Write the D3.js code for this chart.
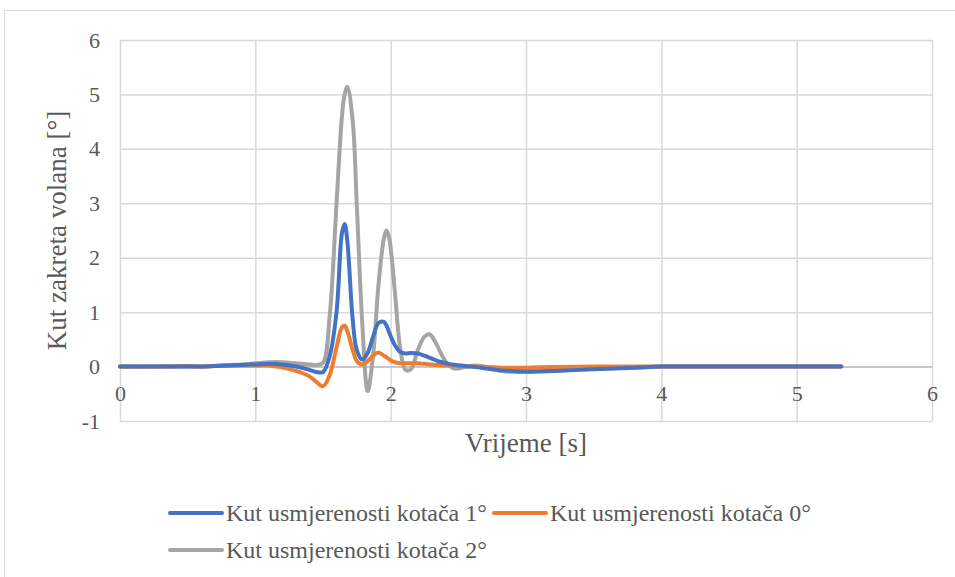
<!DOCTYPE html>
<html>
<head>
<meta charset="utf-8">
<script src="https://cdn.jsdelivr.net/npm/d3@7"></script>
<style>
    html, body { margin: 0; padding: 0; background: #fff; }
    .tick text { fill: #595959; font-size: 22px; }
    .axis-title { fill: #595959; font-size: 27px; }
    .legend-label { fill: #595959; font-size: 24px; }
</style>
</head>
<body>
<div id="chart"></div>
<script>
/* data */
var time = [0, 0.3, 0.5, 0.6, 0.7, 0.8, 0.9, 1.0, 1.1, 1.2, 1.3, 1.4, 1.45, 1.5, 1.55, 1.6, 1.64, 1.66, 1.68, 1.72, 1.75,
    1.79, 1.83, 1.87, 1.91, 1.95, 1.97, 1.99, 2.03, 2.07, 2.11, 2.15, 2.2, 2.25, 2.29, 2.33, 2.38, 2.43, 2.48, 2.55,
    2.63, 2.72, 2.82, 3.0, 3.2, 3.5, 3.8, 4.0, 4.5, 5.0, 5.33];

var kut1 = [0, 0, 0, 0, 0.01, 0.02, 0.03, 0.04, 0.05, 0.04, 0.0, -0.06, -0.1, -0.1, 0.2, 1.0, 2.45, 2.62, 2.3, 0.85, 0.3,
    0.13, 0.25, 0.55, 0.8, 0.82, 0.75, 0.62, 0.4, 0.27, 0.24, 0.25, 0.24, 0.2, 0.16, 0.12, 0.08, 0.05, 0.03, 0.01,
    -0.01, -0.04, -0.07, -0.09, -0.08, -0.05, -0.02, 0, 0, 0, 0];

var kut0 = [0, 0, 0.01, 0, 0.01, 0.02, 0.02, 0.02, 0.02, -0.02, -0.08, -0.18, -0.28, -0.36, -0.15, 0.35, 0.72, 0.75, 0.65, 0.3, 0.1,
    0.04, 0.1, 0.2, 0.26, 0.2, 0.17, 0.13, 0.08, 0.06, 0.06, 0.06, 0.06, 0.05, 0.04, 0.03, 0.02, 0.02, 0.02, 0.01,
    0, -0.01, -0.02, -0.02, -0.01, 0, 0, 0, 0, 0, 0];

var kut2 = [0, 0, 0, 0, 0.01, 0.03, 0.04, 0.06, 0.08, 0.08, 0.06, 0.04, 0.03, 0.07, 0.95, 3.0, 4.6, 5.0, 5.14, 4.5, 2.95,
    0.8, -0.45, 0.2, 1.5, 2.35, 2.5, 2.35, 1.4, 0.35, -0.06, -0.05, 0.3, 0.55, 0.59, 0.45, 0.2, 0.02, -0.04, -0.01,
    0.02, -0.02, -0.08, -0.1, -0.08, -0.04, -0.02, 0, 0, 0, 0];

var xTicks = [0, 1, 2, 3, 4, 5, 6];
var yTicks = [-1, 0, 1, 2, 3, 4, 5, 6];

var seriesNames = ["Kut usmjerenosti kotača 1°", "Kut usmjerenosti kotača 0°", "Kut usmjerenosti kotača 2°"];
var seriesValues = [kut1, kut0, kut2];
var seriesColors = ["#4472C4", "#ED7D31", "#A5A5A5"];

var FONT = "'Liberation Serif', 'Times New Roman', serif";

/* layout */
var W = 955, H = 577;
var PLOT = { left: 120, right: 932, top: 40, bottom: 421 };

var svg = d3.select("#chart").append("svg")
    .attr("width", W)
    .attr("height", H)
    .style("display", "block")
    .attr("font-family", FONT);

// chart border
svg.append("rect")
    .attr("x", 4.5).attr("y", 10.5)
    .attr("width", 980).attr("height", 600)
    .attr("fill", "#fff")
    .attr("stroke", "#d9d9d9");

var x = d3.scaleLinear().domain([0, 6]).range([PLOT.left, PLOT.right]);
var y = d3.scaleLinear().domain([-1, 6]).range([PLOT.bottom, PLOT.top]);

/* grid */
var gridY = svg.append("g")
    .attr("transform", "translate(" + PLOT.left + ",0)")
    .call(d3.axisLeft(y).tickValues(yTicks).tickSize(-(PLOT.right - PLOT.left)).tickFormat(""));
gridY.select(".domain").remove();
gridY.selectAll("line").attr("stroke", "#d9d9d9").attr("stroke-width", 1.5);

var gridX = svg.append("g")
    .attr("transform", "translate(0," + PLOT.bottom + ")")
    .call(d3.axisBottom(x).tickValues(xTicks).tickSize(-(PLOT.bottom - PLOT.top)).tickFormat(""));
gridX.select(".domain").remove();
gridX.selectAll("line").attr("stroke", "#d9d9d9").attr("stroke-width", 1.5);

/* zero axis line with x labels */
var xAxis = svg.append("g")
    .attr("transform", "translate(0," + y(0) + ")")
    .call(d3.axisBottom(x).tickValues(xTicks).tickSize(0).tickPadding(19).tickFormat(d3.format("d")))
    .attr("font-family", FONT)
    .attr("font-size", 22);
xAxis.select(".domain").attr("stroke", "#bfbfbf").attr("stroke-width", 1.5);

/* y labels */
var yAxis = svg.append("g")
    .attr("transform", "translate(" + PLOT.left + ",0)")
    .call(d3.axisLeft(y).tickValues(yTicks).tickSize(0).tickPadding(20).tickFormat(d3.format("d")))
    .attr("font-family", FONT)
    .attr("font-size", 22);
yAxis.select(".domain").remove();
yAxis.selectAll("text").text(function (d) { return d < 0 ? "-" + Math.abs(d) : d; });

/* titles */
svg.append("text")
    .attr("class", "axis-title")
    .attr("x", (PLOT.left + PLOT.right) / 2)
    .attr("y", 452)
    .attr("text-anchor", "middle")
    .text("Vrijeme [s]");

svg.append("text")
    .attr("class", "axis-title")
    .attr("transform", "translate(66," + (PLOT.top + PLOT.bottom) / 2 + ") rotate(-90)")
    .attr("text-anchor", "middle")
    .text("Kut zakreta volana [°]");

/* series */
var line = d3.line()
    .x(function (d) { return x(d[0]); })
    .y(function (d) { return y(d[1]); })
    .curve(d3.curveCatmullRom.alpha(0.5));

[2, 1, 0].forEach(function (i) {
    var pts = time.map(function (t, k) { return [t, seriesValues[i][k]]; });
    svg.append("path")
        .datum(pts)
        .attr("fill", "none")
        .attr("stroke", seriesColors[i])
        .attr("stroke-width", 4)
        .attr("stroke-linejoin", "round")
        .attr("stroke-linecap", "round")
        .attr("d", line);
});

/* legend */
var legendPos = [[170, 513], [494, 513], [170, 550]];
seriesNames.forEach(function (name, i) {
    var g = svg.append("g")
        .attr("transform", "translate(" + legendPos[i][0] + "," + legendPos[i][1] + ")");
    g.append("line")
        .attr("x1", 0).attr("x2", 52)
        .attr("stroke", seriesColors[i])
        .attr("stroke-width", 4)
        .attr("stroke-linecap", "round");
    g.append("text")
        .attr("class", "legend-label")
        .attr("x", 56).attr("y", 8)
        .text(name);
});
</script>
</body>
</html>
